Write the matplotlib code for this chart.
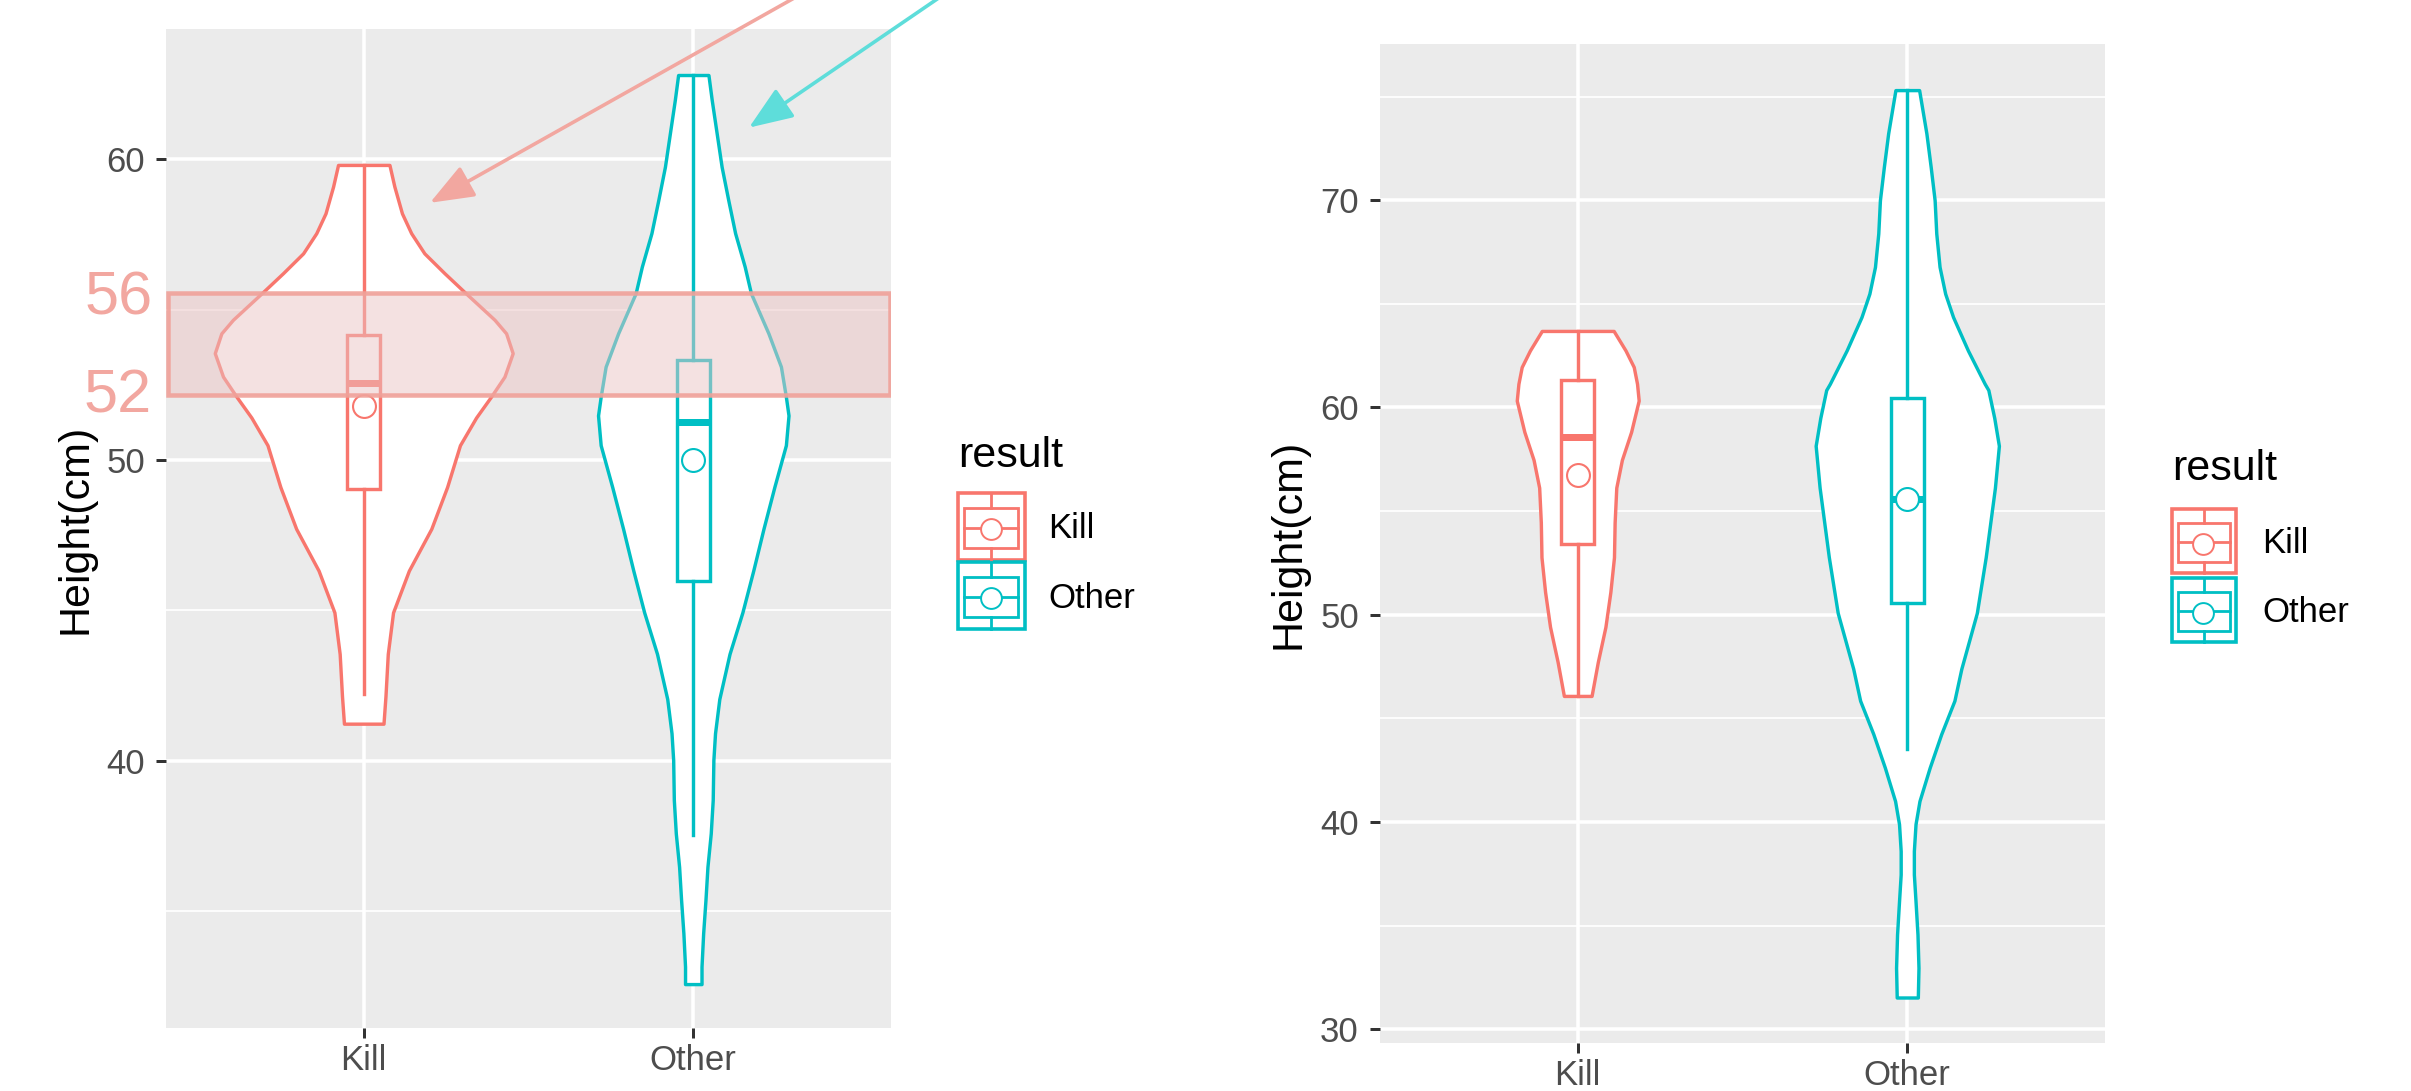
import matplotlib
matplotlib.use("Agg")
import matplotlib.pyplot as plt
from matplotlib.patches import Rectangle

plt.rcParams["font.family"] = ["Liberation Sans", "DejaVu Sans"]

W, H, DPI = 2411, 1091, 100
PX = 72 / DPI  # points per pixel
LW = 3.4 * PX

KILL = "#F8766D"
OTHER = "#00BFC4"
groups = ["Kill", "Other"]
colors = [KILL, OTHER]

# ---------------- left panel data ----------------
# violin outlines: heights and half widths (category units)
lk_h = [59.81, 59.09, 58.20, 57.54, 56.87, 56.21, 55.54, 54.66, 54.21, 53.55, 52.77,
        52.10, 51.41, 50.49, 49.10, 47.71, 46.32, 44.93, 43.55, 42.15, 41.23]
lk_w = [0.078, 0.093, 0.116, 0.144, 0.184, 0.245, 0.310, 0.397, 0.432, 0.452, 0.427,
        0.386, 0.341, 0.292, 0.253, 0.205, 0.137, 0.089, 0.073, 0.066, 0.060]
lo_h = [62.80, 61.97, 60.86, 59.75, 58.65, 57.54, 56.43, 55.54, 54.21, 53.10, 52.10,
        51.48, 50.49, 49.10, 47.71, 46.32, 44.93, 43.55, 42.05, 40.91, 40.02, 38.69,
        37.58, 36.47, 35.37, 34.26, 33.15, 32.57]
lo_w = [0.046, 0.056, 0.071, 0.086, 0.106, 0.127, 0.156, 0.175, 0.228, 0.266, 0.281,
        0.289, 0.281, 0.246, 0.213, 0.182, 0.149, 0.110, 0.079, 0.066, 0.061, 0.059,
        0.053, 0.043, 0.037, 0.030, 0.025, 0.025]
# box stats (Kill, Other)
l_q1 = [49.05, 45.98]
l_med = [52.57, 51.25]
l_q3 = [54.14, 53.33]
l_lo = [42.2, 37.53]
l_hi = [59.81, 62.80]
l_mean = [51.8, 50.0]

# ---------------- right panel data ----------------
rk_h = [63.69, 62.75, 61.95, 61.14, 60.33, 58.82, 57.47, 56.13, 54.45, 52.77, 51.09,
        49.41, 47.72, 46.08]
rk_w = [0.109, 0.145, 0.170, 0.180, 0.185, 0.162, 0.134, 0.117, 0.112, 0.110, 0.099,
        0.084, 0.061, 0.042]
ro_h = [75.31, 73.22, 71.61, 70.00, 68.39, 66.78, 65.49, 64.36, 62.75, 61.14, 60.84,
        59.49, 58.15, 56.13, 52.77, 50.08, 47.39, 45.85, 44.24, 42.62, 41.01, 39.89,
        38.60, 37.47, 36.18, 34.57, 32.96, 31.53]
ro_w = [0.036, 0.058, 0.071, 0.083, 0.088, 0.098, 0.115, 0.139, 0.184, 0.235, 0.246,
        0.264, 0.278, 0.266, 0.238, 0.211, 0.164, 0.143, 0.103, 0.068, 0.037, 0.025,
        0.020, 0.020, 0.025, 0.031, 0.034, 0.032]
r_q1 = [53.41, 50.58]
r_med = [58.55, 55.56]
r_q3 = [61.34, 60.46]
r_lo = [46.08, 43.53]
r_hi = [63.69, 75.31]
r_mean = [56.76, 55.56]

# highlighted band on the left panel and its labels
band_lo, band_hi = 52.17, 55.55
band_labels = ["56", "52"]
band_label_base = [54.82, 51.58]


def draw_panel(ax, violins, q1, med, q3, lo, hi, mean, ylim, major, minor):
    ax.set_facecolor("#EBEBEB")
    for s in ax.spines.values():
        s.set_visible(False)
    ax.set_xlim(0.4, 2.6)
    ax.set_ylim(*ylim)
    ax.set_xticks([1, 2])
    ax.set_xticklabels(groups)
    ax.set_yticks(major)
    ax.set_yticks(minor, minor=True)
    ax.set_axisbelow(True)
    ax.grid(which="major", color="white", lw=3.5 * PX)
    ax.grid(which="minor", axis="y", color="white", lw=1.8 * PX)
    ax.tick_params(which="major", length=10 * PX, width=3 * PX, color="#333333",
                   labelsize=25, labelcolor="#4D4D4D")
    ax.tick_params(axis="y", pad=8)
    ax.tick_params(axis="x", pad=4)
    ax.tick_params(which="minor", length=0)

    for i, (h, w) in enumerate(violins):
        pos = i + 1
        ax.fill_betweenx(h, [pos - v for v in w], [pos + v for v in w],
                         facecolor="white", edgecolor=colors[i], lw=LW, zorder=2,
                         joinstyle="round")

    stats = [dict(q1=q1[i], med=med[i], q3=q3[i], whislo=lo[i], whishi=hi[i],
                  mean=mean[i], fliers=[]) for i in range(2)]
    art = ax.bxp(stats, positions=[1, 2], widths=0.1, patch_artist=True,
                 showmeans=True, showcaps=False, showfliers=False,
                 manage_ticks=False, zorder=3)
    for i, c in enumerate(colors):
        art["boxes"][i].set(facecolor="white", edgecolor=c, lw=LW)
        for wl in art["whiskers"][2 * i:2 * i + 2]:
            wl.set(color=c, lw=LW)
        art["medians"][i].set(color=c, lw=7 * PX, solid_capstyle="butt")
        art["means"][i].set(marker="o", markerfacecolor="white", markeredgecolor=c,
                            markersize=16.5, markeredgewidth=1.5, zorder=4)

    ax.set_ylabel("Height(cm)", fontsize=31, color="black")


fig = plt.figure(figsize=(W / DPI, H / DPI), dpi=DPI)
ax1 = fig.add_axes([166 / W, 62.7 / H, 725 / W, 999 / H])
ax2 = fig.add_axes([1380 / W, 47.7 / H, 725 / W, 999 / H])

draw_panel(ax1, [(lk_h, lk_w), (lo_h, lo_w)], l_q1, l_med, l_q3, l_lo, l_hi, l_mean,
           (31.1, 64.32), [40, 50, 60], [35, 45, 55])
draw_panel(ax2, [(rk_h, rk_w), (ro_h, ro_w)], r_q1, r_med, r_q3, r_lo, r_hi, r_mean,
           (29.32, 77.52), [30, 40, 50, 60, 70], [35, 45, 55, 65, 75])
ax1.yaxis.set_label_coords(-0.0966, 0.5)
ax2.yaxis.set_label_coords(-0.0993, 0.5)

# highlight band on left panel
ax1.add_patch(Rectangle((0.406, band_lo), 2.19, band_hi - band_lo,
                        facecolor=(0.92, 0.77, 0.77, 0.5),
                        edgecolor=(0.94, 0.63, 0.60, 0.9), lw=4.5 * PX, zorder=5))
pink = "#F2A7A0"
for lab, yb in zip(band_labels, band_label_base):
    ax1.text(-0.019, yb, lab, transform=ax1.get_yaxis_transform(), ha="right",
             va="baseline", fontsize=44, color=pink)

# arrows coming from above the figure
head = "-|>,head_length=27,head_width=10.5"
ax1.annotate("", xy=(1.201, 58.55), xytext=(2.41, 66.0), annotation_clip=False,
             arrowprops=dict(arrowstyle=head, mutation_scale=1, color=pink,
                             lw=3.6 * PX, shrinkA=0, shrinkB=0, clip_on=False),
             zorder=6)
ax1.annotate("", xy=(2.169, 61.05), xytext=(2.83, 66.0), annotation_clip=False,
             arrowprops=dict(arrowstyle=head, mutation_scale=1, color="#5EDDDA",
                             lw=3.6 * PX, shrinkA=0, shrinkB=0, clip_on=False),
             zorder=6)

# legends drawn in a pixel-space overlay
ov = fig.add_axes([0, 0, 1, 1])
ov.set_xlim(0, W)
ov.set_ylim(H, 0)
ov.axis("off")


def draw_key(x0, y0, s, c):
    ov.add_patch(Rectangle((x0, y0), s, s, facecolor="white", edgecolor=c, lw=3.6 * PX))
    ov.add_patch(Rectangle((x0 + 0.09 * s, y0 + 0.218 * s), 0.81 * s, 0.61 * s,
                           facecolor="white", edgecolor=c, lw=2.8 * PX))
    cx = x0 + 0.5 * s
    ov.plot([cx, cx], [y0, y0 + 0.218 * s], color=c, lw=2.8 * PX)
    ov.plot([cx, cx], [y0 + 0.828 * s, y0 + s], color=c, lw=2.8 * PX)
    ov.plot([x0 + 0.09 * s, x0 + 0.9 * s], [y0 + 0.52 * s, y0 + 0.52 * s], color=c,
            lw=2.8 * PX)
    ov.plot([x0 + 0.49 * s], [y0 + 0.54 * s], marker="o", markersize=15,
            markerfacecolor="white", markeredgecolor=c, markeredgewidth=1.4)


def draw_legend(x0, title_base, keys_y, s, label_x):
    ov.text(x0, title_base, "result", fontsize=31, color="black", va="baseline")
    for y0, lab, c in zip(keys_y, groups, colors):
        draw_key(x0, y0, s, c)
        ov.text(label_x, y0 + s / 2 + 12, lab, fontsize=25, color="black",
                va="baseline")


draw_legend(958, 466.7, [493, 562], 67, 1048)
draw_legend(2172, 480, [509, 578], 64, 2262)

fig.savefig("out.png", dpi=DPI)
